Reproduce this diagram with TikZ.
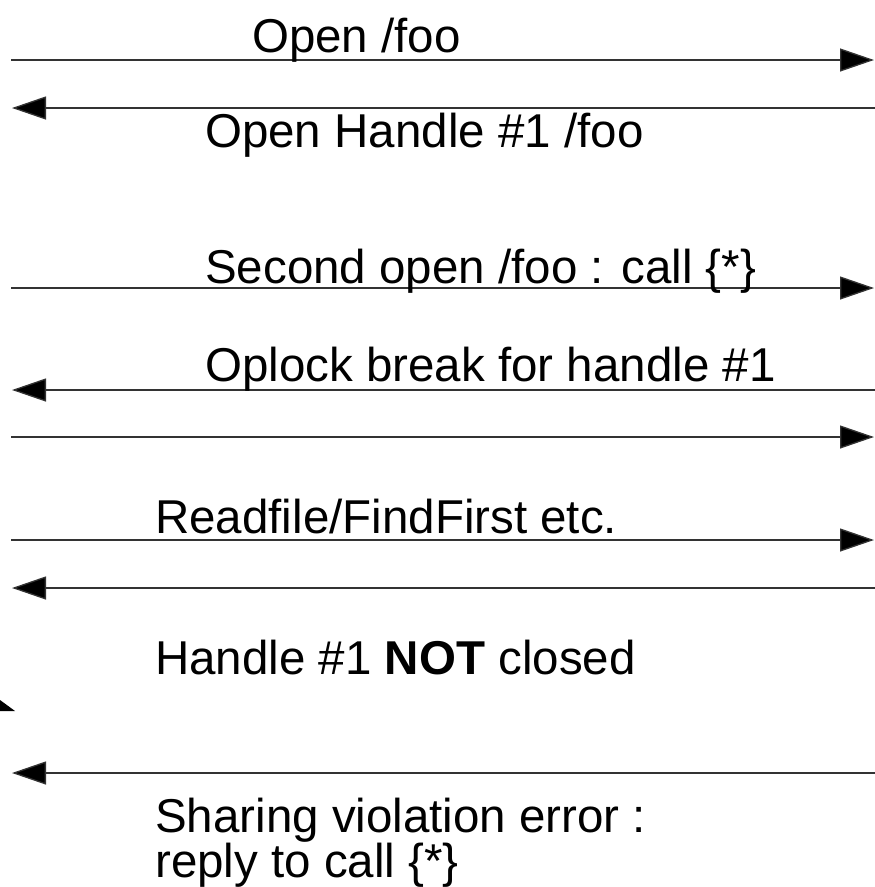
\documentclass[tikz,border=0pt]{standalone}
\usepackage{fontspec}
\setmainfont{Liberation Sans}
\usetikzlibrary{arrows.meta}
\begin{document}
\begin{tikzpicture}[x=1pt,y=-1pt,
  msg/.style={line width=1.3pt, draw=black!80,
    -{Triangle[length=34pt,width=23pt,fill=black]}},
  lbl/.style={anchor=base west, inner sep=0pt,
    font=\fontsize{47.5}{50}\selectfont}]
\useasboundingbox (0,0) rectangle (875,887);

% message endpoints: client on the left, server on the right
\coordinate (c1) at (11,60);   \coordinate (s1) at (874,60);
\coordinate (s2) at (875,108); \coordinate (c2) at (12,108);
\coordinate (c3) at (11,288);  \coordinate (s3) at (874,288);
\coordinate (s4) at (875,390); \coordinate (c4) at (12,390);
\coordinate (c5) at (11,437);  \coordinate (s5) at (874,437);
\coordinate (c6) at (11,540);  \coordinate (s6) at (874,540);
\coordinate (s7) at (875,588); \coordinate (c7) at (12,588);
\coordinate (s8) at (875,773); \coordinate (c8) at (12,773);

\draw[msg] (c1) -- (s1);
\draw[msg] (s2) -- (c2);
\draw[msg] (c3) -- (s3);
\draw[msg] (s4) -- (c4);
\draw[msg] (c5) -- (s5);
\draw[msg] (c6) -- (s6);
\draw[msg] (s7) -- (c7);
\draw[msg] (s8) -- (c8);

% clipped arrow tip at the left edge
\fill (0,700) -- (15,711) -- (0,711) -- cycle;

\node[lbl] (t1) at (252,52)  {Open /foo};
\node[lbl] (t2) at (205,147) {Open Handle \#1 /foo};
\node[lbl] (t3) at (205,283) {Second open /foo : call \{*\}};
\node[lbl] (t4) at (205,381) {Oplock break for handle \#1};
\node[lbl] (t6) at (155,533) {Readfile/FindFirst etc.};
\node[lbl] (t7) at (155,674) {Handle \#1 \textbf{NOT} closed};
\node[lbl] (t8a) at (155,832) {Sharing violation error :};
\node[lbl] (t8b) at (155,877) {reply to call \{*\}};
\end{tikzpicture}
\end{document}
